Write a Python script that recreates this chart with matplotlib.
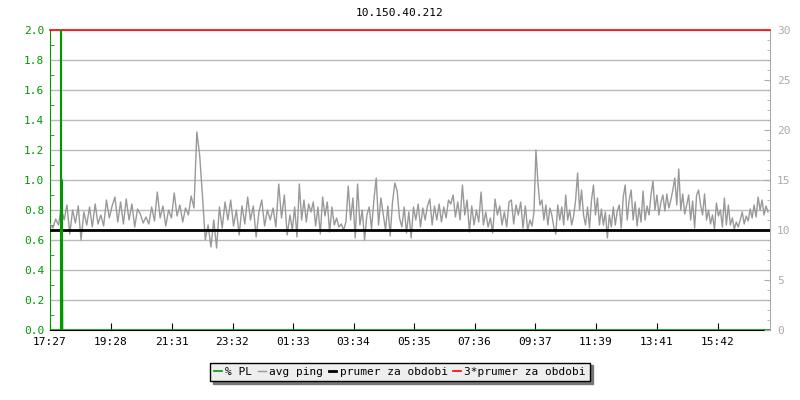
import numpy as np
import matplotlib.pyplot as plt

plt.rcParams['font.family'] = ['DejaVu Sans Mono']

title = "10.150.40.212"

# time axis: minutes after 17:27, one day
span_minutes = 1440
tick_labels = ["17:27", "19:28", "21:31", "23:32", "01:33", "03:34",
               "05:35", "07:36", "09:37", "11:39", "13:41", "15:42"]
tick_minutes = [0, 121, 244, 365, 486, 607, 728, 849, 970, 1092, 1214, 1335]

# avg ping [ms] in three 8 hour blocks
ping_a = [10.6, 10.2, 11.1, 10.5, 12.3, 11.0, 12.5, 9.6, 12.0, 10.7,
          12.4, 9.0, 11.8, 10.5, 12.3, 10.3, 12.6, 10.6, 11.5, 10.4,
          13.0, 11.2, 12.4, 13.3, 10.8, 12.8, 10.6, 13.1, 11.0, 12.6,
          10.3, 12.1, 11.6, 10.7, 11.3, 10.6, 12.3, 10.9, 13.8, 11.2,
          12.4, 10.4, 12.0, 11.2, 13.7, 11.4, 12.5, 10.8, 12.2, 11.5,
          13.4, 12.2, 19.8, 17.5, 13.4, 9.0, 10.5, 8.3, 11.0, 8.2,
          12.3, 10.2, 12.8, 11.0, 13.0, 10.4, 12.0, 9.5, 12.4, 10.6,
          13.3, 11.0, 12.4, 9.3, 11.8, 13.0, 10.4, 12.0, 11.0, 12.2,
          10.3, 14.6, 11.2, 13.5, 9.5]
ping_b = [11.5, 10.0, 12.3, 9.3, 14.6, 11.0, 13.0, 10.8, 12.6, 11.8,
          12.8, 10.4, 12.3, 9.6, 13.3, 11.4, 12.8, 9.8, 12.3, 10.5,
          11.2, 10.3, 10.6, 10.0, 10.8, 14.4, 11.0, 13.2, 9.2, 14.6,
          10.5, 12.0, 9.0, 11.5, 12.3, 10.1, 13.0, 15.2, 10.5, 13.2,
          11.6, 10.0, 12.4, 9.4, 12.8, 14.7, 13.9, 11.2, 10.3, 12.3,
          9.7, 11.8, 9.2, 12.3, 11.0, 12.6, 10.3, 12.2, 11.0, 12.4,
          13.1, 10.5, 12.4, 11.0, 12.6, 10.8, 12.3, 11.2, 13.0, 12.6,
          13.5, 11.3, 12.8, 11.0, 14.5, 11.5, 13.0, 9.8, 12.4, 10.5,
          12.0, 10.8, 13.8, 10.5, 11.8, 10.3, 11.2, 9.7, 13.1, 11.5,
          12.4, 10.5, 11.8, 10.3, 12.8, 13.0, 10.6, 12.5, 11.5, 12.8,
          10.2, 12.4, 10.0]
ping_c = [11.0, 10.4, 11.8, 18.0, 14.7, 12.5, 13.0, 11.0, 12.5, 10.5,
          12.2, 11.5, 10.3, 9.6, 12.5, 11.0, 12.3, 10.5, 13.5, 11.0,
          12.0, 10.5, 11.4, 13.0, 15.7, 12.0, 14.0, 11.5, 10.5, 12.3,
          10.2, 13.0, 14.5, 11.5, 13.2, 10.5, 12.1, 10.5, 11.8, 9.2,
          11.5, 10.3, 12.3, 10.5, 11.9, 12.5, 10.2, 13.3, 14.5, 11.0,
          13.0, 14.0, 11.0, 12.8, 10.4, 12.2, 10.8, 13.9, 11.0, 12.4,
          11.5, 13.5, 14.9, 12.0, 13.5, 11.5, 12.8, 13.5, 11.9, 13.6,
          12.2, 13.0, 14.0, 15.2, 12.5, 16.1, 12.0, 13.6, 11.6, 12.5,
          13.5, 11.0, 12.9, 10.2, 13.5, 14.0, 12.5, 11.5, 13.6, 11.0,
          12.0, 10.6, 11.5, 10.1, 12.7, 11.4, 12.0, 10.3, 13.2, 10.5,
          12.5, 10.5, 11.2, 10.1, 10.8, 10.3, 11.0, 11.8, 10.6, 11.4,
          10.9, 12.1, 11.2, 12.5, 11.3, 13.3, 12.0, 13.0, 11.5, 12.4,
          11.8]

# packet loss [%]
pl_minutes = [0, 21.5, 22, 22.5, 23, 24, 25, 1440]
pl_values = [0, 0, 100, 0, 1.0, 1.0, 0, 0]

avg_ping = 10.0  # prumer za obdobi [ms]

GREEN = '#009900'
GRAY = '#999999'

# sample times for each block
blocks = [ping_a, ping_b, ping_c]
block_len = span_minutes / len(blocks)
times = np.concatenate([np.linspace(i * block_len, (i + 1) * block_len, len(b), endpoint=False)
                        for i, b in enumerate(blocks)])
ping = np.concatenate(blocks)

fig = plt.figure(figsize=(8, 4), dpi=100)
ax = fig.add_axes([50 / 800, 70 / 400, 720 / 800, 300 / 400])
ax2 = ax.twinx()

# left axis: % PL, 0..2
ax.set_ylim(0, 2.0)
ax.set_xlim(0, span_minutes)
left_ticks = np.arange(0, 2.01, 0.2)
ax.set_yticks(left_ticks)
ax.set_yticklabels(['%.1f' % v for v in left_ticks])
ax.set_yticks(np.arange(0.1, 2.0, 0.2), minor=True)
for v in left_ticks[1:]:
    ax.axhline(v, color='#bbbbbb', lw=1, zorder=0)
ax.tick_params(axis='y', which='both', direction='in', colors=GREEN, labelsize=8, pad=4)
ax.tick_params(axis='y', which='major', length=0)
ax.tick_params(axis='y', which='minor', length=3)
ax.set_xticks(tick_minutes)
ax.set_xticklabels(tick_labels)
ax.tick_params(axis='x', direction='in', length=5, labelsize=8, pad=5)
ax.spines['left'].set_color(GREEN)
ax.spines['top'].set_visible(False)
ax.spines['right'].set_visible(False)
ax.spines['bottom'].set_color('black')

# right axis: ping, 0..30 ms
ax2.set_ylim(0, 30)
ax2.set_yticks(np.arange(0, 31, 5))
ax2.set_yticks(np.arange(0, 31, 1), minor=True)
ax2.tick_params(axis='y', which='both', direction='in', colors='#aaaaaa', labelsize=8, pad=5)
ax2.tick_params(axis='y', which='major', length=4)
ax2.tick_params(axis='y', which='minor', length=2)
ax2.spines['right'].set_color('#aaaaaa')
for s in ['left', 'top', 'bottom']:
    ax2.spines[s].set_visible(False)

scale = 30 / 2.0  # left 2.0 <-> right 30
l_ping, = ax2.plot(times, ping, color=GRAY, lw=1, zorder=2)
l_avg = ax2.axhline(avg_ping, color='black', lw=2, zorder=3)
l_avg3 = ax2.axhline(3 * avg_ping, color='red', lw=1.2, zorder=3, clip_on=False)
l_pl, = ax2.plot(pl_minutes, np.array(pl_values) * scale, color=GREEN, lw=1.2, zorder=4)

fig.text(0.5, 1 - 13 / 400, title, ha='center', va='center', fontsize=8)

fig.legend([l_pl, l_ping, l_avg, l_avg3],
           ['% PL', 'avg ping', 'prumer za obdobi', '3*prumer za obdobi'],
           loc='center', bbox_to_anchor=(0.5, 1 - 372 / 400), ncol=4,
           fontsize=8, handlelength=0.7, handletextpad=0.3, columnspacing=0.5,
           borderpad=0.4, fancybox=False, edgecolor='black', facecolor='#eeeeee',
           framealpha=1, shadow={'color': '#777777', 'alpha': 1})

fig.savefig('out.png', dpi=100)
